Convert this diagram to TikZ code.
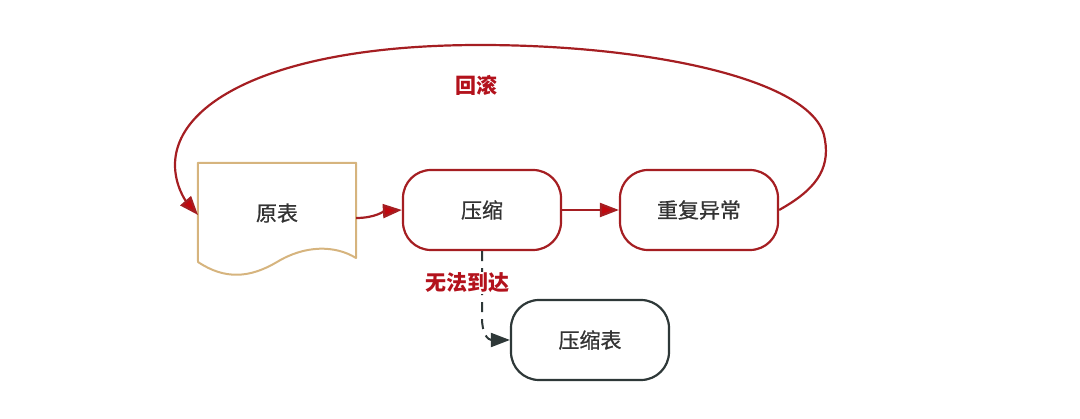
\documentclass[tikz,border=0pt]{standalone}
\usepackage{fontspec}
\setmainfont{Noto Sans CJK SC}
\newfontfamily\nodefont{Noto Sans CJK SC}[FakeBold=0.8]
\usetikzlibrary{arrows.meta}
\definecolor{lred}{HTML}{B3121C}
\definecolor{bred}{HTML}{A51E22}
\definecolor{tipred}{HTML}{C0080F}
\definecolor{tan}{HTML}{D6B47E}
\definecolor{dgray}{HTML}{2E3838}
\definecolor{txt}{HTML}{333333}
\tikzset{
  proc/.style={draw=bred, line width=2.2pt, rounded corners=28pt, minimum width=158pt, minimum height=80pt, inner sep=0pt, font=\nodefont\fontsize{21pt}{24pt}\selectfont, text=txt, fill=white},
  lbl/.style={font=\fontsize{21pt}{24pt}\selectfont\bfseries, text=lred, inner sep=1pt},
  redarrow/.style={draw=bred, line width=2.2pt, -{Triangle[length=19pt,width=14pt,fill=tipred]}},
}
\begin{document}
\begin{tikzpicture}[x=1pt,y=-1pt]
\useasboundingbox (0,0) rectangle (1080,419);
% document shape
\node[minimum width=158pt, minimum height=100pt, inner sep=0pt, font=\nodefont\fontsize{21pt}{24pt}\selectfont, text=txt] (yb) at (277,213) {原表};
\draw[tan, line width=2pt, line join=round] (yb.north west) -- (yb.north east) -- (356,258)
  .. controls (335,245) and (305,245) .. (277,262)
  .. controls (250,278) and (225,280) .. (198,262) -- cycle;
\node[proc] (ys) at (482,210) {压缩};
\node[proc] (cf) at (699,210) {重复异常};
\node[proc, draw=dgray] (ysb) at (590,340) {压缩表};
% arrows
\draw[redarrow] (yb.east) ++(0,5) coordinate (ybe) .. controls (375,218) and (385,211) .. (ys.west);
\draw[redarrow] (ys.east) -- (cf.west);
\draw[redarrow] (cf.east) .. controls (815,190) and (830,170) .. (825,140)
  .. controls (818,80) and (650,45) .. (480,45)
  .. controls (280,45) and (175,100) .. (175,165)
  .. controls (175,185) and (185,200) .. (198,215);
\node[lbl] (hg) at (476,85) {回滚};
\draw[dgray, line width=2pt, dash pattern=on 10pt off 7pt, -{Triangle[length=19pt,width=14pt]}]
  (ys.south) -- (482,318) .. controls (482,334) and (488,340) .. (ysb.west);
\node[lbl, fill=white] (wf) at (467,283) {无法到达};
\end{tikzpicture}
\end{document}
